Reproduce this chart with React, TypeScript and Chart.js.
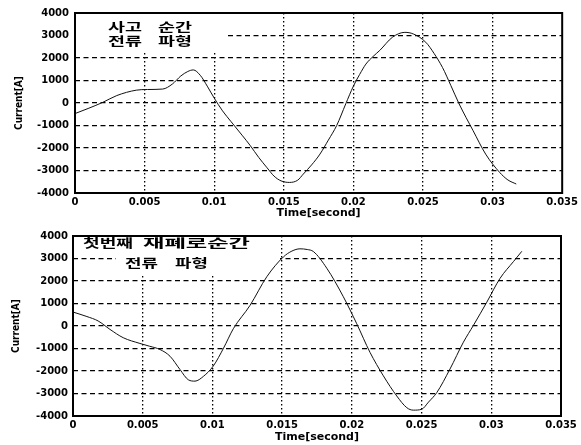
import React, { useEffect, useRef } from "react";
import { Chart, registerables } from "chart.js";

Chart.register(...registerables);

// ---- data ----
const xTickValues = [0, 0.005, 0.01, 0.015, 0.02, 0.025, 0.03, 0.035];
const xTickLabels = ["0", "0.005", "0.01", "0.015", "0.02", "0.025", "0.03", "0.035"];
const yTickValues = [-4000, -3000, -2000, -1000, 0, 1000, 2000, 3000, 4000];
const yTickLabels = ["-4000", "-3000", "-2000", "-1000", "0", "1000", "2000", "3000", "4000"];
const xAxisTitle = "Time[second]";
const yAxisTitle = "Current[A]";

const topTime = [
  0, 0.001, 0.002, 0.003, 0.0044, 0.0052, 0.0063, 0.007, 0.0076, 0.0081,
  0.0085, 0.009, 0.0095, 0.01, 0.0106, 0.0112, 0.012, 0.0126, 0.0132, 0.0138,
  0.0143, 0.0148, 0.0154, 0.016, 0.0164, 0.017, 0.0176, 0.0182, 0.0188, 0.01945,
  0.02, 0.02045, 0.0209, 0.0214, 0.0219, 0.0228, 0.0237, 0.0243, 0.0252, 0.0258,
  0.0264, 0.027, 0.0276, 0.0286, 0.0295, 0.0305, 0.0311, 0.0317,
];
const topCurrent = [
  -470, -230, 30, 330, 570, 600, 620, 845, 1200, 1400,
  1470, 1230, 750, 220, -350, -820, -1430, -1900, -2420, -2880,
  -3250, -3460, -3530, -3430, -3160, -2750, -2270, -1650, -1000, -40,
  750, 1270, 1730, 2060, 2340, 2920, 3140, 3070, 2700, 2200,
  1580, 780, -45, -1230, -2270, -3080, -3420, -3600,
];

const bottomTime = [
  0, 0.001, 0.0018, 0.00265, 0.0036, 0.0048, 0.0055, 0.00624, 0.00696, 0.00768,
  0.00827, 0.00875, 0.00935, 0.01006, 0.0108, 0.0115, 0.0127, 0.0139, 0.01509, 0.0157,
  0.01628, 0.0168, 0.01724, 0.0182, 0.01939, 0.02035, 0.0213, 0.02226, 0.02322, 0.02394,
  0.02441, 0.02501, 0.0255, 0.02609, 0.02704, 0.028, 0.02872, 0.02968, 0.03063, 0.0316,
  0.03219,
];
const bottomCurrent = [
  620, 420, 225, -150, -520, -775, -900, -1045, -1345, -1940,
  -2390, -2450, -2240, -1780, -980, -120, 920, 2190, 3070, 3330,
  3430, 3400, 3310, 2570, 1300, 100, -1170, -2215, -3110, -3630,
  -3740, -3700, -3380, -2960, -1910, -720, 30, 1060, 2120, 2870,
  3320,
];

const topCaptionLine1 = ["사고", "순간"];
const topCaptionLine2 = ["전류", "파형"];
const bottomCaptionLine1 = ["첫번째", "재폐로순간"];
const bottomCaptionLine2 = ["전류", "파형"];

// ---- layout (positions/sizes only) ----
type Cap = { text: string; x: number; y: number; w: number };
type PanelCfg = {
  top: number;
  height: number;
  padTop: number;
  padRight: number;
  yWidth: number;
  xHeight: number;
  yTickPad: number;
  yTitlePad: number;
  xTitlePad: number;
  masks: number[][];
  captions: Cap[];
};

const topPanel: PanelCfg = {
  top: 0,
  height: 222,
  padTop: 13,
  padRight: 18,
  yWidth: 75,
  xHeight: 29,
  yTickPad: 6,
  yTitlePad: 13,
  xTitlePad: 2.5,
  masks: [[76, 14, 152, 38]],
  captions: [
    { text: topCaptionLine1[0], x: 108, y: 27.5, w: 34 },
    { text: topCaptionLine1[1], x: 158, y: 27.5, w: 34 },
    { text: topCaptionLine2[0], x: 108, y: 41, w: 34 },
    { text: topCaptionLine2[1], x: 158, y: 41, w: 34 },
  ],
};

const bottomPanel: PanelCfg = {
  top: 222,
  height: 223,
  padTop: 14,
  padRight: 20,
  yWidth: 73,
  xHeight: 29,
  yTickPad: 5,
  yTitlePad: 10,
  xTitlePad: 1.7,
  masks: [
    [74, 15, 181, 16],
    [116, 29, 164, 24],
  ],
  captions: [
    { text: bottomCaptionLine1[0], x: 83, y: 21.5, w: 50 },
    { text: bottomCaptionLine1[1], x: 143, y: 21.5, w: 107 },
    { text: bottomCaptionLine2[0], x: 125, y: 41, w: 33 },
    { text: bottomCaptionLine2[1], x: 175, y: 41, w: 33 },
  ],
};

const W = 581;
const tickFont = { family: "'DejaVu Sans', sans-serif", size: 10, weight: "bold" as const };

function Panel({ time, current, cfg }: { time: number[]; current: number[]; cfg: PanelCfg }) {
  const ref = useRef<HTMLCanvasElement | null>(null);

  useEffect(() => {
    const canvas = ref.current;
    if (!canvas) return;
    const points = time.map((t, i) => ({ x: t, y: current[i] }));

    const overlay = {
      id: "overlay",
      beforeDatasetsDraw(chart: any) {
        const ctx = chart.ctx as CanvasRenderingContext2D;
        ctx.save();
        ctx.fillStyle = "#ffffff";
        cfg.masks.forEach((m) => ctx.fillRect(m[0], m[1], m[2], m[3]));
        ctx.fillStyle = "#000000";
        ctx.font = "700 12.5px 'Noto Sans CJK KR', sans-serif";
        ctx.textBaseline = "middle";
        ctx.textAlign = "left";
        cfg.captions.forEach((c) => {
          const mw = ctx.measureText(c.text).width;
          ctx.save();
          ctx.translate(c.x, c.y);
          ctx.scale(c.w / mw, 1);
          ctx.fillText(c.text, 0, 0);
          ctx.restore();
        });
        ctx.restore();
      },
      afterDraw(chart: any) {
        const { left, top, right, bottom } = chart.chartArea;
        const ctx = chart.ctx as CanvasRenderingContext2D;
        ctx.save();
        ctx.strokeStyle = "#000";
        ctx.lineWidth = 2;
        ctx.setLineDash([]);
        ctx.strokeRect(left, top, right - left, bottom - top);
        ctx.restore();
      },
    };

    const chart = new Chart(canvas, {
      type: "line",
      data: {
        datasets: [
          {
            data: points,
            borderColor: "#111",
            borderWidth: 1,
            pointRadius: 0,
            cubicInterpolationMode: "monotone",
            fill: false,
          },
        ],
      },
      options: {
        responsive: false,
        animation: false,
        devicePixelRatio: 1,
        layout: { padding: { top: cfg.padTop, right: cfg.padRight, left: 0, bottom: 0 } },
        plugins: { legend: { display: false }, tooltip: { enabled: false } },
        scales: {
          x: {
            type: "linear",
            min: 0,
            max: 0.035,
            afterBuildTicks: (s: any) => {
              s.ticks = xTickValues.map((value) => ({ value }));
            },
            afterFit: (s: any) => {
              s.height = cfg.xHeight;
            },
            ticks: {
              color: "#000",
              font: tickFont,
              padding: 3,
              maxRotation: 0,
              autoSkip: false,
              callback: (_v: any, i: number) => xTickLabels[i],
            },
            grid: {
              drawTicks: false,
              lineWidth: 1.3,
              color: (c: any) =>
                c.index === 0 || c.index === xTickValues.length - 1 ? "rgba(0,0,0,0)" : "#000",
            },
            border: { display: false, dash: [1.5, 2.5] },
            title: {
              display: true,
              text: xAxisTitle,
              color: "#000",
              font: { family: "'DejaVu Sans', sans-serif", size: 11, weight: "bold" },
              padding: { top: 0, bottom: cfg.xTitlePad },
            },
          },
          y: {
            type: "linear",
            min: -4000,
            max: 4000,
            afterBuildTicks: (s: any) => {
              s.ticks = yTickValues.map((value) => ({ value }));
            },
            afterFit: (s: any) => {
              s.width = cfg.yWidth;
            },
            ticks: {
              color: "#000",
              font: tickFont,
              padding: cfg.yTickPad,
              autoSkip: false,
              callback: (_v: any, i: number) => yTickLabels[i],
            },
            grid: {
              drawTicks: false,
              lineWidth: 1.3,
              color: (c: any) =>
                c.index === 0 || c.index === yTickValues.length - 1 ? "rgba(0,0,0,0)" : "#000",
            },
            border: { display: false, dash: [5, 3.5] },
            title: {
              display: true,
              text: yAxisTitle,
              color: "#000",
              font: { family: "'Liberation Sans Narrow', 'DejaVu Sans Condensed', sans-serif", size: 10, weight: "bold" },
              padding: { top: cfg.yTitlePad, bottom: 0 },
            },
          },
        },
      },
      plugins: [overlay],
    } as any);

    return () => chart.destroy();
  }, [time, current, cfg]);

  return (
    <canvas
      ref={ref}
      width={W}
      height={cfg.height}
      style={{ position: "absolute", left: 0, top: cfg.top, width: W, height: cfg.height, display: "block" }}
    />
  );
}

export default function App() {
  return (
    <div style={{ position: "absolute", left: 0, top: 0, width: W, height: 445, background: "#fff" }}>
      <Panel time={topTime} current={topCurrent} cfg={topPanel} />
      <Panel time={bottomTime} current={bottomCurrent} cfg={bottomPanel} />
    </div>
  );
}
